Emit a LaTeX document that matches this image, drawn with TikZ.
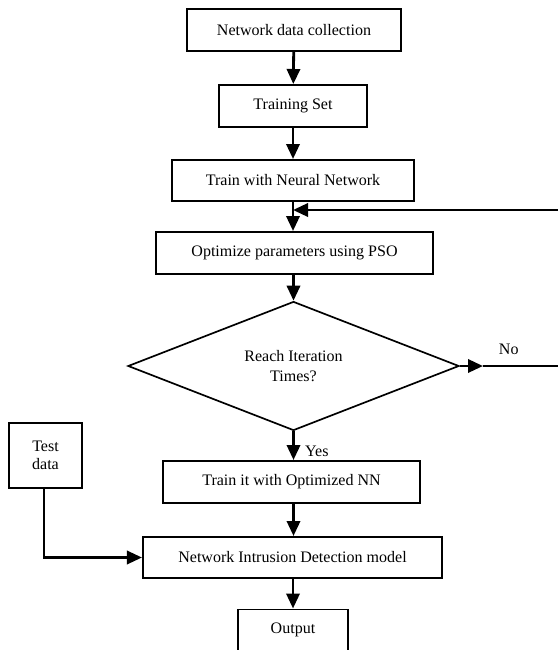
\documentclass[tikz,border=0pt]{standalone}
\usepackage{fontspec}
\setmainfont{Liberation Serif}
\usetikzlibrary{shapes.geometric,arrows.meta}
\tikzset{
  stepbox/.style={draw,line width=1.4pt,align=center,inner sep=0pt,font=\fontsize{11.4}{13.2}\selectfont},
  decide/.style={diamond,draw,line width=1.2pt,align=center,inner sep=0pt,minimum width=8.275cm,minimum height=3.15cm,font=\fontsize{11.4}{13.7}\selectfont},
  flowarr/.style={-{Triangle[length=3.75mm,width=3.3mm]},line width=2pt},
  flowline/.style={line width=2pt},
  lbl/.style={font=\fontsize{11.4}{13.2}\selectfont}
}
\begin{document}
\begin{tikzpicture}[x=0.025cm,y=-0.025cm]
  \useasboundingbox (0,0) rectangle (558,650);
  \node[stepbox,minimum width=5.35cm,minimum height=1.05cm] (collect) at (294,30) {Network data collection};
  \node[stepbox,minimum width=3.7cm,minimum height=1.05cm] (trainset) at (293,106) {Training Set};
  \node[stepbox,minimum width=6.05cm,minimum height=1.025cm] (trainnn) at (293,180.5) {Train with Neural Network};
  \node[stepbox,minimum width=6.925cm,minimum height=1.05cm] (pso) at (294.5,253) {Optimize parameters using PSO};
  \node[decide] (iter) at (293.5,366) {Reach Iteration\\Times?};
  \node[stepbox,minimum width=6.425cm,minimum height=1.05cm] (trainopt) at (291.5,482) {Train it with Optimized NN};
  \node[stepbox,minimum width=7.475cm,minimum height=1.025cm] (nids) at (292.5,557.5) {Network Intrusion Detection model};
  \node[stepbox,minimum width=2.75cm,minimum height=1.025cm] (output) at (293,630) {Output};
  \node[stepbox,minimum width=1.825cm,minimum height=1.625cm] (test) at (45.5,455.5) {Test\\data};
  \coordinate (fb) at (293,210);
  \coordinate (notip) at (483,366);
  \coordinate (corner) at (561,366);

  \draw[flowarr] (collect) -- (trainset);
  \draw[flowarr] (trainset) -- (trainnn);
  \draw[flowarr] (trainnn.south -| fb) -- (pso.north -| fb);
  \draw[flowarr] (pso.south -| iter.north) -- (iter.north);
  \draw[flowarr] (iter.south) -- (trainopt.north -| iter.south) node[lbl,pos=0.7,right=4pt] {Yes};
  \draw[flowarr] (trainopt.south -| iter.south) -- (nids.north -| iter.south);
  \draw[flowarr] (nids.south -| output.north) -- (output.north);
  \draw[flowarr] (iter.east) -- (notip);
  \draw[flowline] (notip) -- (corner) node[lbl,pos=0.33,above=4pt] {No};
  \draw[flowarr] (corner) |- (fb);
  \draw[flowarr] (test.south -| 44,0) |- (nids.west);
\end{tikzpicture}
\end{document}
